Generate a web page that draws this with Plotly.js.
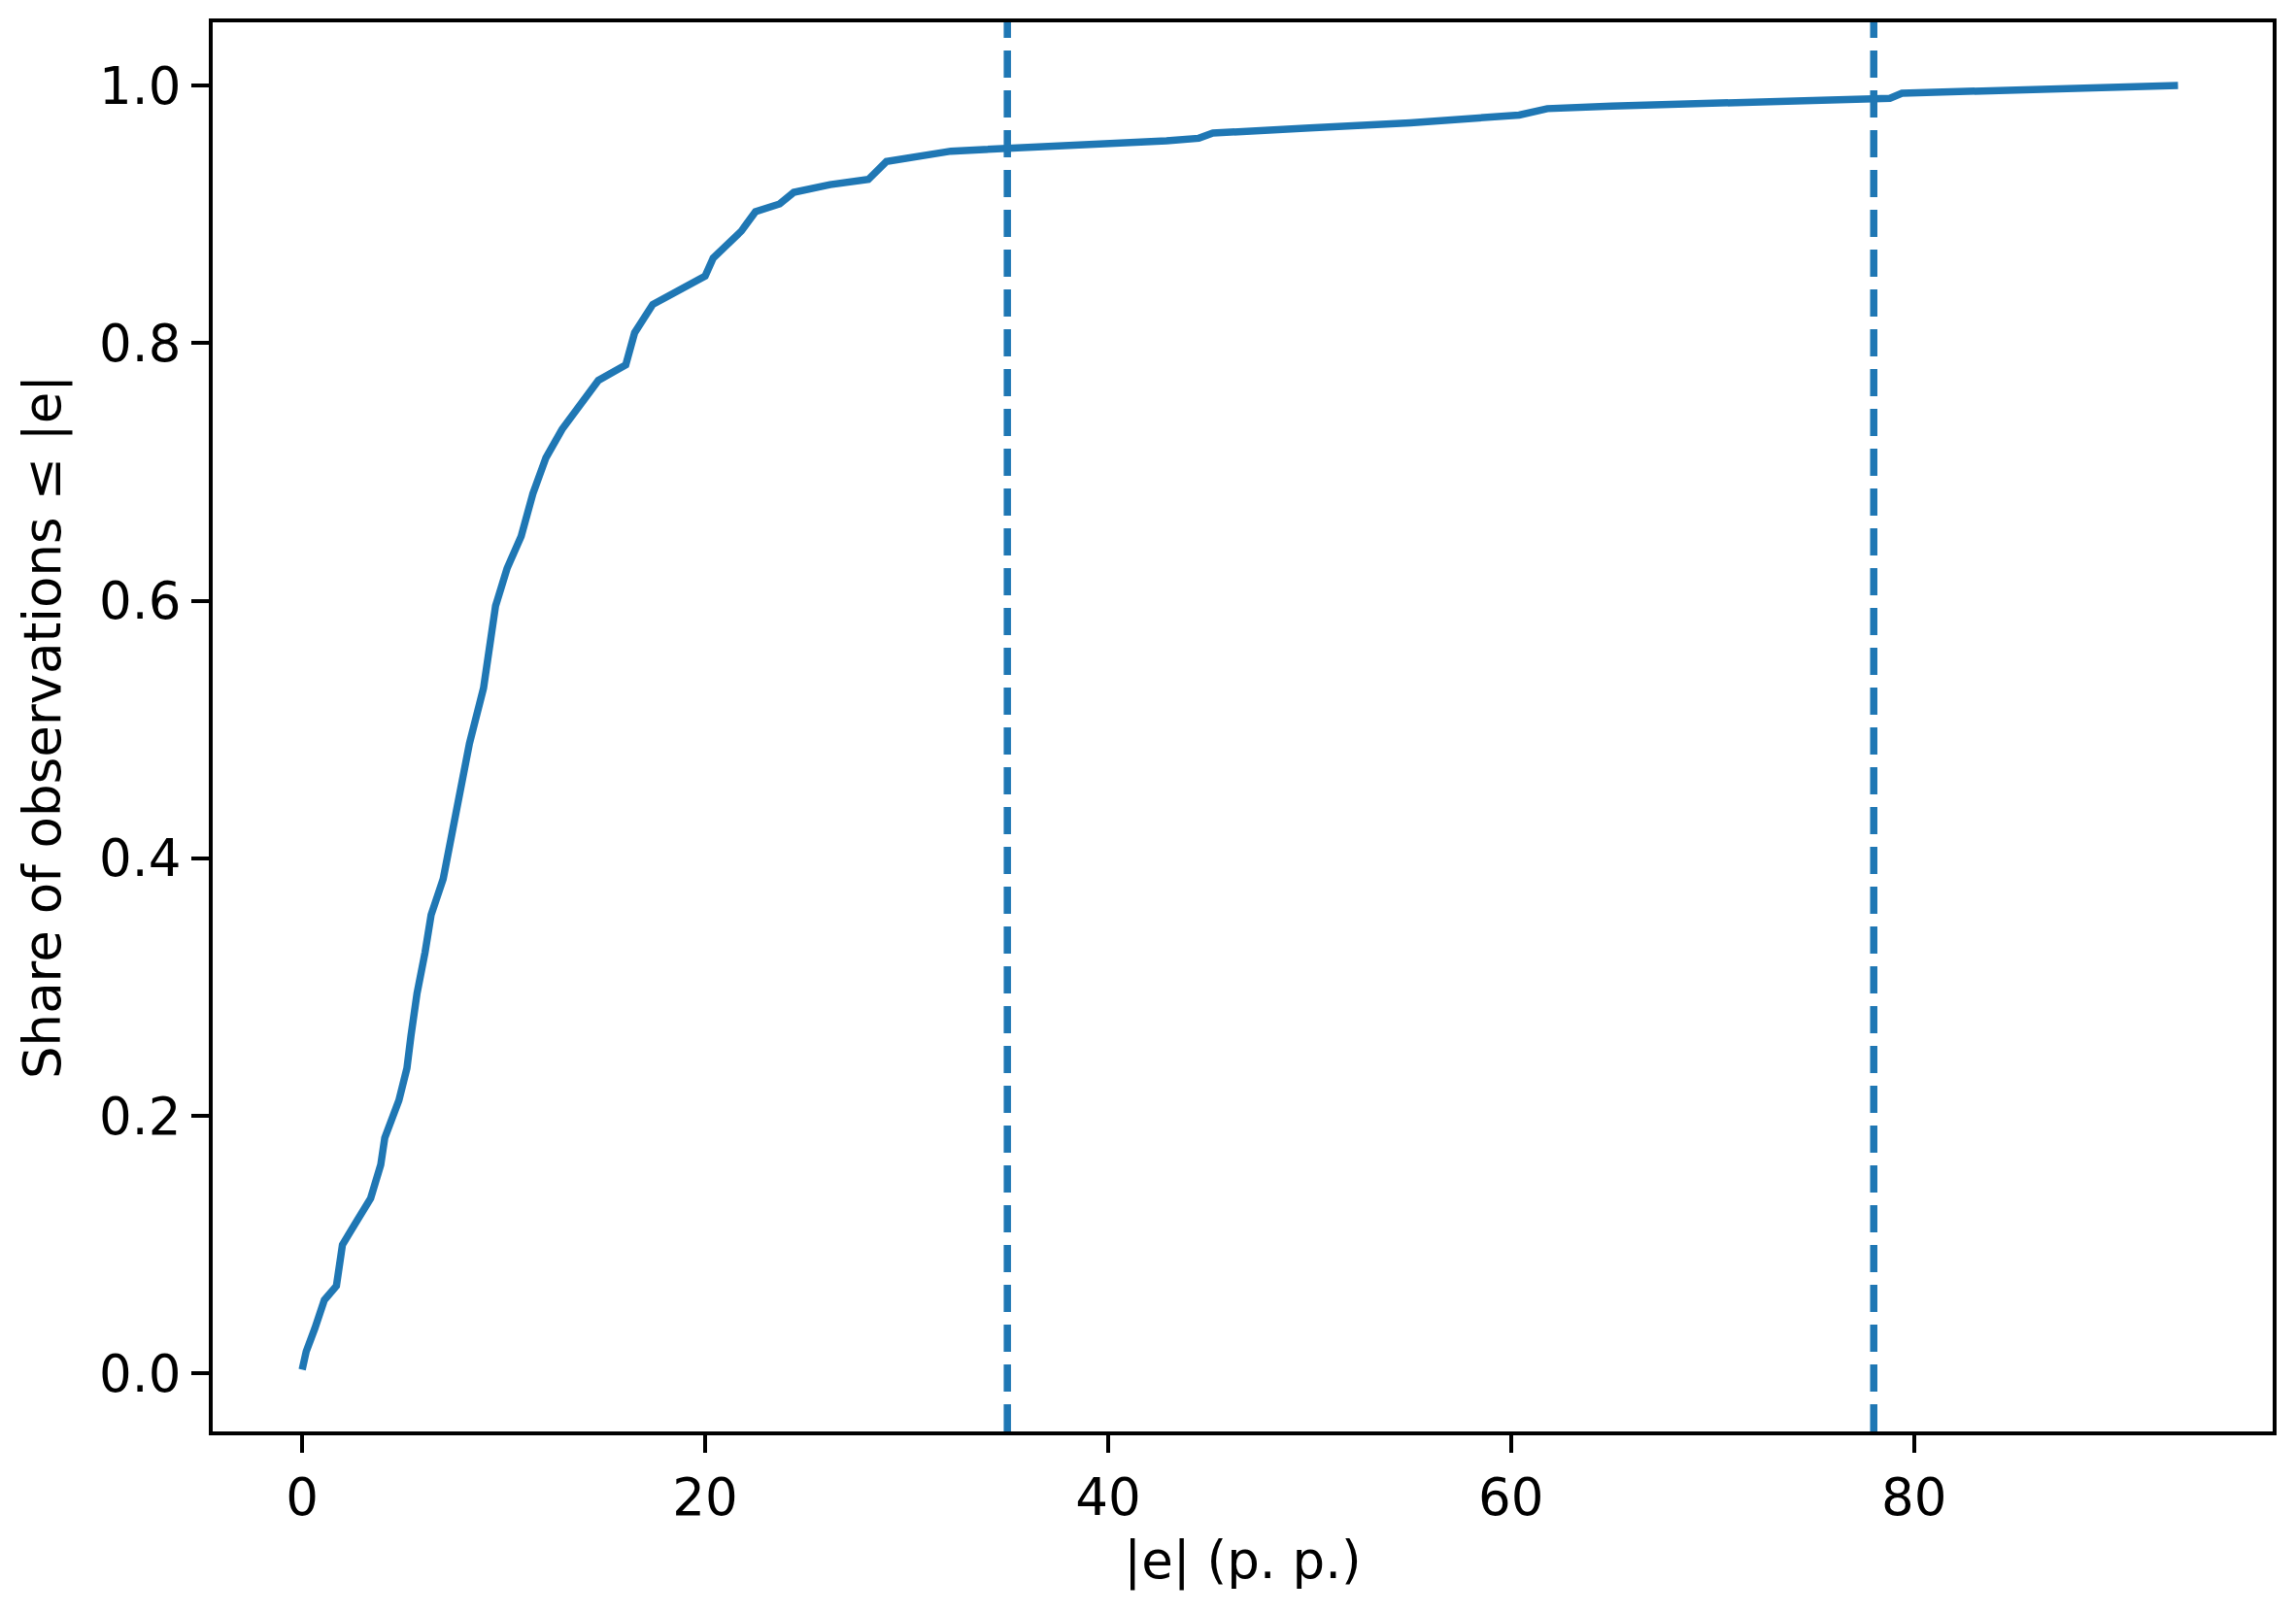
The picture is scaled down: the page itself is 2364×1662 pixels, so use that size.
<!DOCTYPE html>
<html>
<head>
<meta charset="utf-8">
<script src="https://cdn.plot.ly/plotly-3.0.1.min.js"></script>
<style>html,body{margin:0;padding:0;background:#fff;}#chart{width:2364px;height:1662px;}</style>
</head>
<body>
<div id="chart"></div>
<script>
// ECDF of absolute errors |e| (p. p.)
const errAbs = [0, 0.2, 0.63, 1.1, 1.7, 2.0, 2.7, 3.4, 3.9, 4.1, 4.8, 5.2, 5.4, 5.7, 6.1, 6.4, 7.0, 7.35, 7.9, 8.3, 9.0, 9.6, 10.17, 10.87, 11.45, 12.1, 12.9, 13.8, 14.7, 16.06, 16.5, 17.4, 18.8, 20.0, 20.4, 21.2, 21.8, 22.5, 23.7, 24.4, 26.2, 28.1, 29.0, 32.2, 35.0, 40.3, 42.9, 44.5, 45.2, 50, 55, 60.4, 61.8, 65, 70, 75, 78.8, 79.4, 85, 93.1];
const shareLE = [0.003, 0.017, 0.035, 0.057, 0.068, 0.100, 0.118, 0.136, 0.162, 0.183, 0.212, 0.237, 0.262, 0.295, 0.327, 0.356, 0.384, 0.413, 0.453, 0.489, 0.532, 0.596, 0.625, 0.650, 0.683, 0.711, 0.733, 0.751, 0.771, 0.783, 0.808, 0.830, 0.841, 0.852, 0.866, 0.877, 0.887, 0.902, 0.908, 0.917, 0.923, 0.927, 0.941, 0.949, 0.951, 0.954, 0.957, 0.959, 0.963, 0.967, 0.971, 0.977, 0.982, 0.984, 0.986, 0.988, 0.990, 0.994, 0.996, 1.0];
const refLines = [35.0, 78.0];
const xTicks = [0, 20, 40, 60, 80];
const yTicks = [0.0, 0.2, 0.4, 0.6, 0.8, 1.0];
const xTitle = "|e| (p. p.)";
const yTitle = "Share of observations ≤ |e|";

const blue = "#1f77b4";
const font = "DejaVu Sans, sans-serif";
const fs = 53;

const shapes = refLines.map(v => ({
  type: "line", xref: "x", yref: "paper", x0: v, x1: v, y0: 0, y1: 1,
  line: {color: blue, width: 7.5, dash: "28px,13px"}
}));

const axisCommon = {
  showgrid: false, zeroline: false, showline: true, mirror: true,
  linecolor: "#000", linewidth: 4, ticks: "outside", ticklen: 18, tickwidth: 4,
  tickcolor: "#000", tickfont: {family: font, size: fs, color: "#000"}
};

Plotly.newPlot("chart", [{
  x: errAbs, y: shareLE, type: "scatter", mode: "lines",
  line: {color: blue, width: 7.5}, hoverinfo: "skip"
}], {
  width: 2364, height: 1662,
  margin: {l: 219, r: 24, t: 23, b: 188},
  paper_bgcolor: "#fff", plot_bgcolor: "#fff",
  showlegend: false,
  font: {family: font, color: "#000"},
  xaxis: Object.assign({}, axisCommon, {
    range: [-4.44, 97.8], tickvals: xTicks, ticktext: xTicks.map(String),
    title: {text: xTitle, font: {family: font, size: fs, color: "#000"}, standoff: 18}
  }),
  yaxis: Object.assign({}, axisCommon, {
    range: [-0.045, 1.049], tickvals: yTicks, ticktext: yTicks.map(v => v.toFixed(1)),
    title: {text: yTitle, font: {family: font, size: fs, color: "#000"}, standoff: 24}
  }),
  shapes: shapes
}, {staticPlot: true, displayModeBar: false});
</script>
</body>
</html>
